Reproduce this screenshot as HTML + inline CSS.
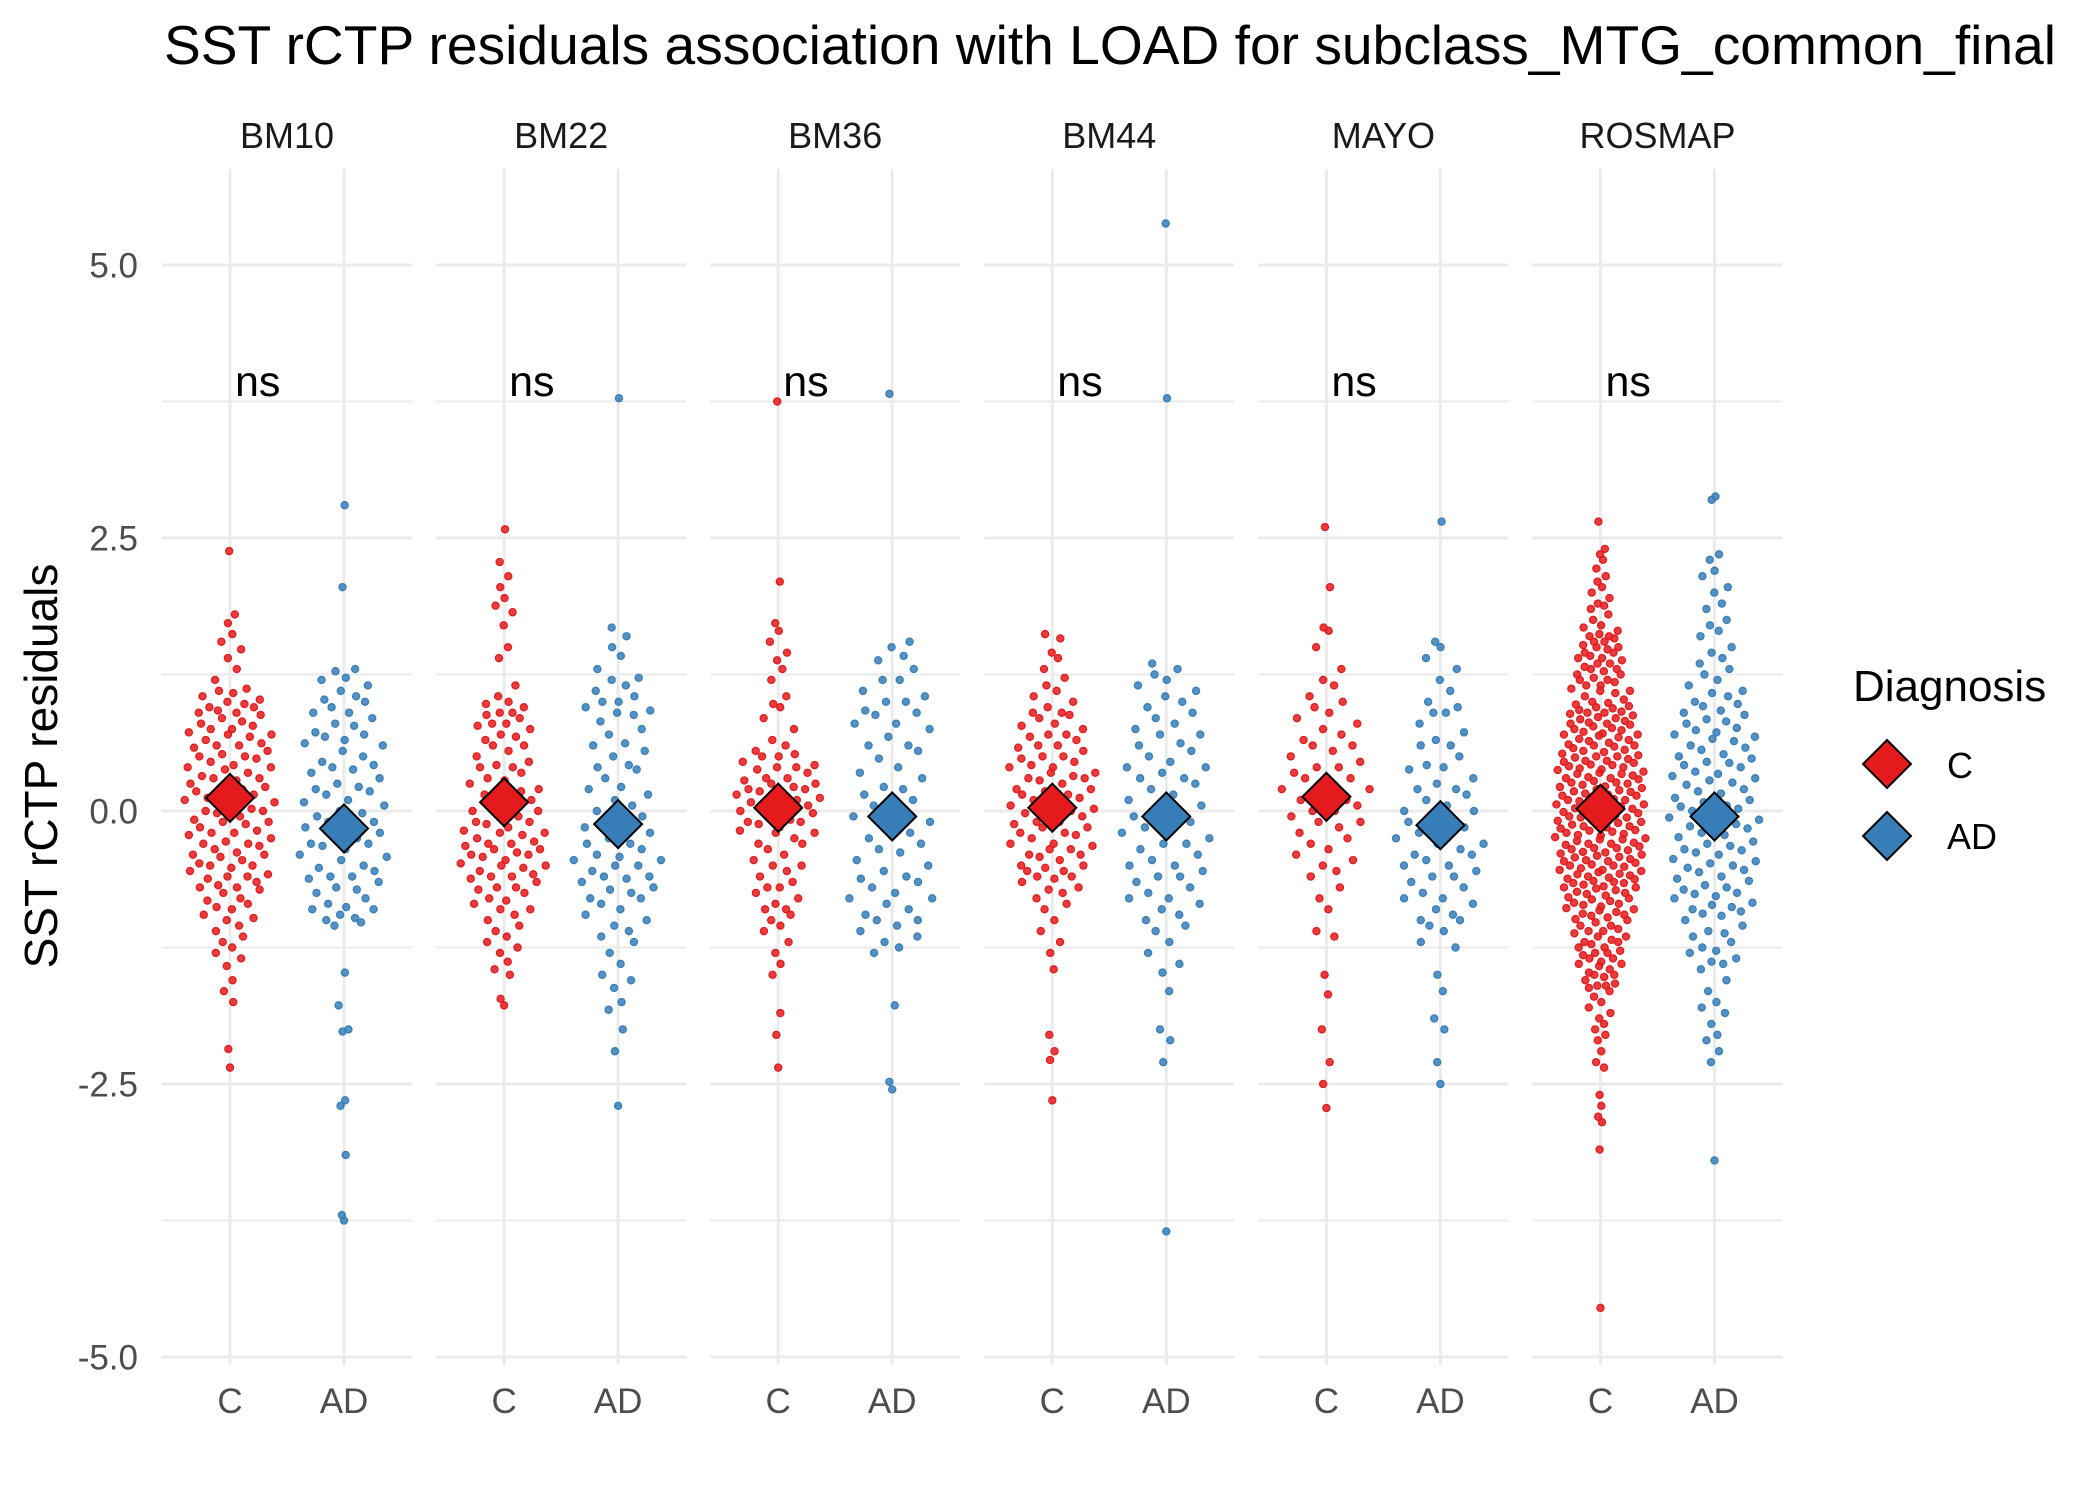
<!DOCTYPE html>
<html><head><meta charset="utf-8"><title>SST rCTP residuals</title>
<style>
html,body{margin:0;padding:0;background:#fff;}
svg{display:block;font-family:"Liberation Sans",Arial,sans-serif;}
</style></head>
<body>
<svg id="chart" width="2100" height="1499" viewBox="0 0 2100 1499" xmlns="http://www.w3.org/2000/svg">
<rect x="0" y="0" width="2100" height="1499" fill="#fff"/>
<text x="164" y="64" font-size="55" fill="#000" textLength="1892" lengthAdjust="spacingAndGlyphs">SST rCTP residuals association with LOAD for subclass_MTG_common_final</text>
<text transform="translate(57,766) rotate(-90)" text-anchor="middle" font-size="46" fill="#000">SST rCTP residuals</text>
<g id="grid"></g>
<g id="ticks"></g>
<g id="marks"></g>
<g id="legend">
<text x="1853" y="701" font-size="44" fill="#000">Diagnosis</text>
<path d="M1887 740 L1911 764 L1887 788 L1863 764 Z" fill="#e41a1c" stroke="#000" stroke-width="2"/>
<text x="1947" y="778" font-size="36" fill="#000">C</text>
<path d="M1887 812 L1911 836 L1887 860 L1863 836 Z" fill="#377eb8" stroke="#000" stroke-width="2"/>
<text x="1947" y="849" font-size="36" fill="#000">AD</text>
</g>
</svg>
<script>
const panels = ["BM10","BM22","BM36","BM44","MAYO","ROSMAP"];
const groups = ["C","AD"];
const yTicks = [5.0, 2.5, 0.0, -2.5, -5.0];
const yTickLabels = ["5.0","2.5","0.0","-2.5","-5.0"];
const yMinor = [3.75, 1.25, -1.25, -3.75];
const sigLabels = ["ns","ns","ns","ns","ns","ns"];
const sigY = 3.83;
const meansC = [0.12, 0.08, 0.03, 0.03, 0.13, 0.02];
const meansAD = [-0.16, -0.12, -0.05, -0.05, -0.13, -0.05];

const BM10_C = [2.38,1.8,1.72,1.62,1.55,1.48,1.4,1.3,1.2,1.12,1.1,1.08,1.05,1.02,1.0,0.98,0.95,0.92,0.9,0.88,0.85,0.82,0.8,0.78,0.75,0.72,0.7,0.68,0.65,0.62,0.6,0.58,0.55,0.52,0.5,0.48,0.45,0.42,0.4,0.38,0.35,0.32,0.3,0.28,0.25,0.22,0.2,0.18,0.15,0.12,0.1,0.08,0.05,0.02,0.0,-0.02,-0.05,-0.08,-0.1,-0.12,-0.15,-0.18,-0.2,-0.22,-0.25,-0.28,-0.3,-0.32,-0.35,-0.38,-0.4,-0.42,-0.45,-0.48,-0.5,-0.52,-0.55,-0.58,-0.6,-0.62,-0.65,-0.68,-0.7,-0.72,-0.75,-0.8,-0.82,-0.85,-0.88,-0.9,-0.95,-0.98,-1.0,-1.05,-1.1,-1.15,-1.2,-1.25,-1.3,-1.35,-1.42,-1.55,-1.65,-1.75,-2.18,-2.35,0.9,0.7,0.5,0.3,0.1,-0.1,-0.3,-0.5,-0.7,0.6,0.4,0.2,0.0,-0.2,-0.4,-0.6,0.95,0.75];
const BM10_AD = [2.8,2.05,1.3,1.28,1.22,1.15,1.1,1.05,1.02,1.0,0.95,0.9,0.85,0.8,0.78,0.72,0.68,0.62,0.6,0.55,0.5,0.45,0.42,0.38,0.35,0.3,0.25,0.22,0.18,0.15,0.1,0.08,0.05,0.0,-0.02,-0.05,-0.1,-0.12,-0.15,-0.2,-0.22,-0.25,-0.3,-0.32,-0.35,-0.4,-0.42,-0.45,-0.5,-0.52,-0.55,-0.6,-0.62,-0.65,-0.7,-0.72,-0.75,-0.8,-0.85,-0.88,-0.9,-0.95,-0.98,-1.0,-1.02,-1.05,-1.48,-1.78,-2.0,-2.02,-2.65,-2.7,-3.15,-3.7,-3.75,1.2,0.9,0.7,0.4,0.2,-0.1,-0.3,-0.6,-0.9,0.65];
const BM22_C = [2.58,2.28,2.15,2.05,1.95,1.88,1.82,1.7,1.5,1.4,1.15,1.05,1.0,0.98,0.95,0.9,0.88,0.85,0.8,0.78,0.75,0.7,0.68,0.65,0.6,0.55,0.5,0.45,0.42,0.4,0.35,0.3,0.28,0.25,0.2,0.18,0.15,0.1,0.08,0.05,0.0,-0.02,-0.05,-0.1,-0.12,-0.15,-0.18,-0.2,-0.22,-0.25,-0.28,-0.3,-0.32,-0.35,-0.38,-0.4,-0.42,-0.45,-0.48,-0.5,-0.52,-0.55,-0.58,-0.6,-0.62,-0.65,-0.7,-0.72,-0.75,-0.8,-0.82,-0.85,-0.9,-0.95,-1.0,-1.05,-1.1,-1.15,-1.2,-1.25,-1.3,-1.38,-1.45,-1.5,-1.72,-1.78,-0.3,-0.35,-0.4,-0.5,-0.6,-0.2,0.2,0.4,0.6,0.8,0.9,-0.7,-0.9,0.0,-0.1];
const BM22_AD = [3.78,1.68,1.6,1.5,1.42,1.3,1.22,1.15,1.1,1.05,1.0,0.95,0.92,0.88,0.82,0.75,0.7,0.62,0.55,0.5,0.42,0.38,0.3,0.22,0.15,0.1,0.05,0.0,-0.05,-0.1,-0.15,-0.2,-0.25,-0.3,-0.35,-0.4,-0.42,-0.45,-0.5,-0.55,-0.6,-0.62,-0.65,-0.7,-0.72,-0.75,-0.8,-0.85,-0.9,-0.95,-1.0,-1.05,-1.1,-1.15,-1.2,-1.3,-1.4,-1.5,-1.55,-1.62,-1.75,-1.82,-2.0,-2.2,-2.7,0.9,0.6,0.4,0.2,-0.3,-0.5,-0.6,-0.8,1.2,1.0,-0.15,-0.45];
const BM36_C = [3.75,2.1,1.72,1.65,1.55,1.45,1.38,1.3,1.2,1.05,0.98,0.95,0.85,0.75,0.65,0.6,0.55,0.52,0.5,0.45,0.42,0.4,0.38,0.35,0.3,0.28,0.25,0.22,0.2,0.18,0.15,0.12,0.1,0.08,0.05,0.02,0.0,-0.02,-0.05,-0.08,-0.1,-0.12,-0.15,-0.18,-0.2,-0.25,-0.3,-0.35,-0.4,-0.45,-0.5,-0.55,-0.6,-0.65,-0.7,-0.75,-0.8,-0.85,-0.9,-0.95,-1.0,-1.05,-1.1,-1.2,-1.3,-1.4,-1.5,-1.85,-2.05,-2.35,0.3,0.2,0.1,0.0,-0.1,0.4,0.5,-0.3,-0.5,-0.7,-0.9,0.25,0.15,-0.2];
const BM36_AD = [3.82,1.55,1.5,1.42,1.38,1.3,1.2,1.1,1.05,1.0,0.92,0.88,0.8,0.75,0.68,0.6,0.55,0.48,0.4,0.35,0.3,0.22,0.15,0.1,0.05,0.0,-0.05,-0.1,-0.15,-0.2,-0.25,-0.3,-0.38,-0.45,-0.5,-0.55,-0.62,-0.65,-0.7,-0.75,-0.8,-0.85,-0.9,-0.95,-1.0,-1.05,-1.1,-1.15,-1.2,-1.25,-1.3,-1.78,-2.48,-2.55,1.2,0.9,0.6,0.2,-0.35,-0.6,-0.8,-1.0,0.8,1.0];
const BM44_C = [1.62,1.58,1.45,1.4,1.3,1.22,1.15,1.1,1.05,1.0,0.95,0.9,0.88,0.85,0.8,0.78,0.75,0.7,0.68,0.65,0.6,0.58,0.55,0.5,0.48,0.45,0.42,0.4,0.35,0.32,0.3,0.28,0.25,0.2,0.18,0.15,0.12,0.1,0.05,0.02,0.0,-0.02,-0.05,-0.1,-0.12,-0.15,-0.2,-0.22,-0.25,-0.3,-0.32,-0.35,-0.4,-0.42,-0.45,-0.5,-0.52,-0.55,-0.6,-0.62,-0.65,-0.7,-0.72,-0.75,-0.8,-0.85,-0.9,-1.0,-1.1,-1.2,-1.3,-1.45,-2.05,-2.2,-2.28,-2.65,0.6,0.4,0.3,0.2,0.1,0.0,-0.1,-0.2,-0.3,-0.4,-0.5,-0.6,0.5,0.7,0.9,-0.15,0.15,0.35,-0.35,-0.55];
const BM44_AD = [5.38,3.78,1.35,1.3,1.25,1.2,1.15,1.1,1.0,0.95,0.85,0.8,0.75,0.7,0.62,0.55,0.5,0.45,0.4,0.35,0.3,0.25,0.2,0.15,0.1,0.05,0.0,-0.05,-0.1,-0.15,-0.2,-0.25,-0.3,-0.35,-0.4,-0.45,-0.5,-0.55,-0.6,-0.65,-0.7,-0.75,-0.8,-0.85,-0.9,-0.95,-1.0,-1.05,-1.1,-1.2,-1.3,-1.4,-1.48,-1.65,-2.0,-2.1,-2.3,-3.85,0.9,0.6,0.3,0.0,-0.3,-0.6,-0.8,0.4,-0.15,-0.5,0.7,1.05];
const MAYO_C = [2.6,2.05,1.68,1.65,1.5,1.3,1.2,1.15,1.05,1.0,0.95,0.85,0.8,0.7,0.65,0.6,0.55,0.5,0.45,0.4,0.35,0.3,0.25,0.2,0.15,0.1,0.05,0.0,-0.05,-0.1,-0.15,-0.2,-0.3,-0.35,-0.4,-0.5,-0.55,-0.6,-0.7,-0.8,-0.9,-1.1,-1.15,-1.5,-1.68,-2.0,-2.3,-2.5,-2.72,0.6,0.4,0.2,0.1,0.0,-0.1,-0.25,0.75,0.3,-0.45,0.9];
const MAYO_AD = [2.65,1.55,1.5,1.4,1.3,1.2,1.1,1.0,0.95,0.9,0.8,0.72,0.65,0.6,0.5,0.42,0.38,0.3,0.25,0.2,0.15,0.1,0.05,0.0,-0.05,-0.1,-0.15,-0.2,-0.25,-0.3,-0.35,-0.4,-0.45,-0.5,-0.55,-0.6,-0.65,-0.7,-0.75,-0.8,-0.85,-0.9,-0.95,-1.0,-1.05,-1.1,-1.2,-1.25,-1.5,-1.65,-1.9,-2.0,-2.3,-2.5,0.6,0.2,0.0,-0.2,-0.3,-0.5,-0.6,-0.8,-1.0,0.4,0.9,-0.1,-0.4];
const ROSMAP_C = [2.65,2.4,2.35,2.3,2.22,2.15,2.1,2.05,2.0,1.95,1.9,1.88,1.85,1.8,1.75,1.7,1.68,1.65,1.62,1.6,1.58,1.55,1.52,1.5,1.48,1.45,1.42,1.4,1.38,1.35,1.32,1.3,1.28,1.25,1.22,1.2,1.18,1.15,1.12,1.1,1.08,1.05,1.02,
1.0,0.975,0.95,0.925,0.9,0.875,0.85,0.825,0.8,0.775,0.75,0.725,0.7,0.675,0.65,0.625,0.6,0.575,0.55,0.525,0.5,0.475,0.45,0.425,0.4,0.375,0.35,0.325,0.3,0.275,0.25,0.225,0.2,0.175,0.15,0.125,0.1,0.075,0.05,0.025,0.0,-0.025,-0.05,-0.075,-0.1,-0.125,-0.15,-0.175,-0.2,-0.225,-0.25,-0.275,-0.3,-0.325,-0.35,-0.375,-0.4,-0.425,-0.45,-0.475,-0.5,-0.525,-0.55,-0.575,-0.6,-0.625,-0.65,-0.675,-0.7,-0.725,-0.75,-0.775,-0.8,-0.825,-0.85,-0.875,-0.9,-0.925,-0.95,-0.975,-1.0,
0.99,0.96,0.94,0.91,0.89,0.86,0.84,0.81,0.79,0.76,0.74,0.71,0.69,0.66,0.64,0.61,0.59,0.56,0.54,0.51,0.49,0.46,0.44,0.41,0.39,0.36,0.34,0.31,0.29,0.26,0.24,0.21,0.19,0.16,0.14,0.11,0.09,0.06,0.04,0.01,-0.01,-0.04,-0.06,-0.09,-0.11,-0.14,-0.16,-0.19,-0.21,-0.24,-0.26,-0.29,-0.31,-0.34,-0.36,-0.39,-0.41,-0.44,-0.46,-0.49,-0.51,-0.54,-0.56,-0.59,-0.61,-0.64,-0.66,-0.69,-0.71,-0.74,-0.76,-0.79,-0.81,-0.84,-0.86,-0.89,-0.91,-0.94,-0.96,-0.99,
0.5,0.46,0.42,0.38,0.34,0.3,0.26,0.22,0.18,0.14,0.1,0.06,0.02,-0.02,-0.06,-0.1,-0.14,-0.18,-0.22,-0.26,-0.3,-0.34,-0.38,-0.42,-0.46,-0.5,-0.54,-0.58,-0.62,-0.66,-0.7,0.7,0.8,0.9,0.6,
-1.02,-1.05,-1.08,-1.1,-1.12,-1.15,-1.18,-1.2,-1.22,-1.25,-1.28,-1.3,-1.32,-1.35,-1.38,-1.4,-1.42,-1.45,-1.48,-1.5,-1.52,-1.55,-1.58,-1.6,-1.62,-1.65,-1.7,-1.75,-1.8,-1.85,-1.9,-1.95,-2.0,-2.05,-2.1,-2.2,-2.3,-2.35,-2.6,-2.7,-2.8,-2.85,-3.1,-4.55,-1.05,-1.15,-1.25,-1.35,-1.1,-1.2,-1.3,-1.4,-1.5,-1.6,1.6,1.5,1.4,1.3,1.2,1.1,1.55,1.45,1.35,1.25,1.15];
const ROSMAP_AD = [2.88,2.85,2.35,2.3,2.2,2.15,2.05,1.9,1.85,1.7,1.65,1.5,1.45,1.4,1.35,1.3,1.2,1.15,1.1,1.08,1.05,
1.0,0.96,0.92,0.88,0.84,0.8,0.76,0.72,0.68,0.64,0.6,0.56,0.52,0.48,0.44,0.4,0.36,0.32,0.28,0.24,0.2,0.16,0.12,0.08,0.04,0.0,-0.04,-0.08,-0.12,-0.16,-0.2,-0.24,-0.28,-0.32,-0.36,-0.4,-0.44,-0.48,-0.52,-0.56,-0.6,-0.64,-0.68,-0.72,-0.76,-0.8,-0.84,-0.88,-0.92,-0.96,-1.0,
0.98,0.9,0.82,0.74,0.66,0.58,0.5,0.42,0.34,0.26,0.18,0.1,0.02,-0.06,-0.14,-0.22,-0.3,-0.38,-0.46,-0.54,-0.62,-0.7,-0.78,-0.86,-0.94,0.7,0.45,0.3,0.05,-0.1,-0.35,-0.5,-0.75,-0.9,
-1.05,-1.1,-1.15,-1.2,-1.25,-1.3,-1.35,-1.4,-1.45,-1.55,-1.65,-1.75,-1.8,-1.85,-1.95,-2.05,-2.1,-2.2,-2.3,-3.2,-1.12,-1.28,-1.38,1.25,1.6,1.75,2.0];

const valuesC = [BM10_C, BM22_C, BM36_C, BM44_C, MAYO_C, ROSMAP_C];
const valuesAD = [BM10_AD, BM22_AD, BM36_AD, BM44_AD, MAYO_AD, ROSMAP_AD];

const NS = "http://www.w3.org/2000/svg";
const PANEL_LEFT = 162, PANEL_STEP = 274.1, PANEL_W = 250, PANEL_TOP = 169, PANEL_BOT = 1365;
const Y0 = 811, YPU = 109.2;
const COLORS = {C: "#e41a1c", AD: "#377eb8"};
function yScale(v){ return Y0 - v * YPU; }
function panelX(i){ return PANEL_LEFT + PANEL_STEP * i; }
function groupX(i, g){ return panelX(i) + (g === 0 ? 68 : 182); }
function mk(tag, attrs, parent){
  const el = document.createElementNS(NS, tag);
  for (const k in attrs) el.setAttribute(k, attrs[k]);
  parent.appendChild(el);
  return el;
}
function vdc(n){ let v = 0, d = 1; while (n > 0){ d *= 2; v += (n % 2) / d; n = Math.floor(n / 2); } return v; }

const grid = document.getElementById('grid');
const ticks = document.getElementById('ticks');
const marks = document.getElementById('marks');

panels.forEach((p, i) => {
  const x0 = panelX(i);
  yMinor.forEach(v => {
    const l = mk('line', {x1: x0, x2: x0 + PANEL_W, y1: yScale(v), y2: yScale(v), stroke: '#ebebeb', 'stroke-width': 2}, grid);
    
    
  });
  yTicks.forEach(v => {
    const l = mk('line', {x1: x0, x2: x0 + PANEL_W, y1: yScale(v), y2: yScale(v), stroke: '#ebebeb', 'stroke-width': 3}, grid);
    
    
  });
  groups.forEach((g, gi) => {
    const gx = groupX(i, gi);
    const l = mk('line', {x1: gx, x2: gx, y1: PANEL_TOP, y2: PANEL_BOT, stroke: '#ebebeb', 'stroke-width': 3}, grid);
    
    
    const t = mk('text', {x: gx, y: 1413, 'text-anchor': 'middle', 'font-size': 35, fill: '#4d4d4d'}, ticks);
    t.textContent = g;
    
    
  });
  const s = mk('text', {x: x0 + PANEL_W / 2, y: 148, 'text-anchor': 'middle', 'font-size': 36, fill: '#1a1a1a'}, ticks);
  s.textContent = p;
  
  
});

yTicks.forEach((v, k) => {
  const t = mk('text', {x: 138, y: yScale(v) + 12.5, 'text-anchor': 'end', 'font-size': 35, fill: '#4d4d4d'}, ticks);
  t.textContent = yTickLabels[k];
  
  
});

function drawGroup(vals, cx, color){
  const sorted = vals.slice().sort((a, b) => a - b);
  const bw = 0.28;
  const dens = sorted.map(v => sorted.reduce((s, u) => s + Math.exp(-0.5 * ((v - u) / bw) ** 2), 0));
  const maxD = Math.max(...dens);
  const g = mk('g', {}, marks);
  
  
  sorted.forEach((v, k) => {
    const w = 46 * dens[k] / maxD;
    const off = (vdc(k + 1) * 2 - 1) * w;
    const c = mk('circle', {cx: cx + off, cy: yScale(v), r: 3.6, fill: color, 'fill-opacity': 0.85, stroke: color, 'stroke-width': 1.2}, g);
    
    
  });
}
function drawDiamond(cx, v, color){
  const cy = yScale(v);
  const d = mk('path', {d: `M${cx} ${cy - 24} L${cx + 24} ${cy} L${cx} ${cy + 24} L${cx - 24} ${cy} Z`, fill: color, stroke: '#000', 'stroke-width': 2}, marks);
  
  
}

panels.forEach((p, i) => {
  drawGroup(valuesC[i], groupX(i, 0), COLORS.C);
  drawGroup(valuesAD[i], groupX(i, 1), COLORS.AD);
});
panels.forEach((p, i) => {
  drawDiamond(groupX(i, 0), meansC[i], COLORS.C);
  drawDiamond(groupX(i, 1), meansAD[i], COLORS.AD);
  const t = mk('text', {x: groupX(i, 0) + 5, y: yScale(sigY) + 3, 'font-size': 43, fill: '#000'}, marks);
  t.textContent = sigLabels[i];
  
  
});
</script>
</body></html>
